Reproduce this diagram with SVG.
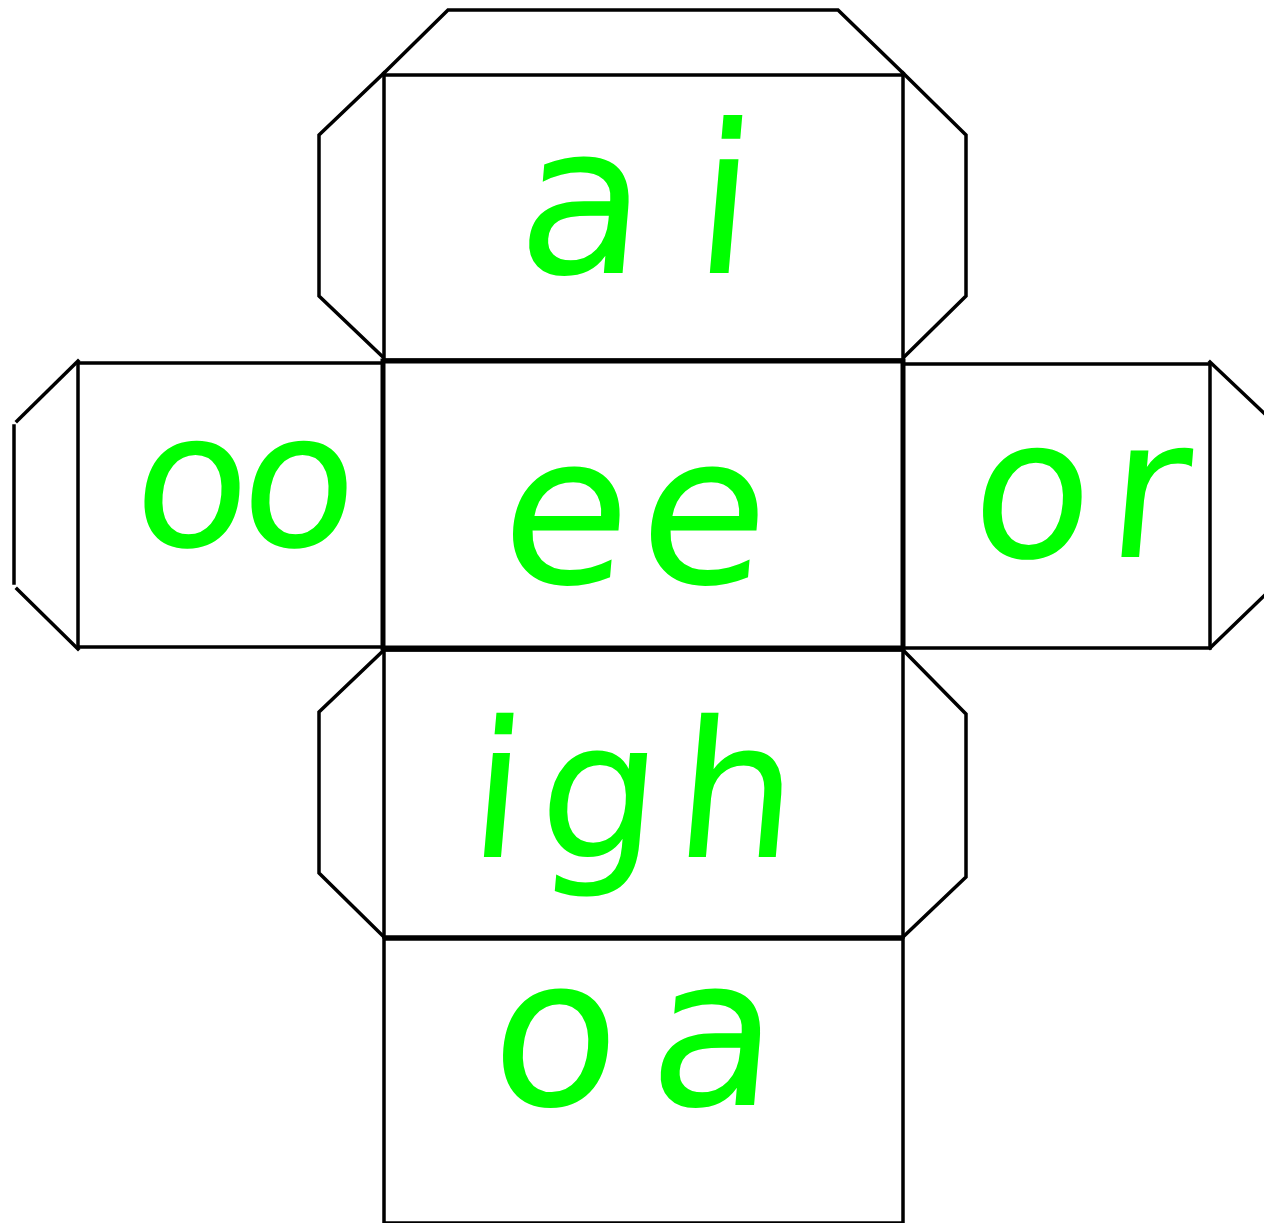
<svg xmlns="http://www.w3.org/2000/svg" width="1264" height="1223" viewBox="0 0 1264 1223">
<style>
.ln{fill:none;stroke:#000;stroke-width:3.5;stroke-linecap:square;stroke-linejoin:miter}
.face{fill:#fff;stroke:#000;stroke-width:3.5}
.thick{fill:none;stroke:#000;stroke-width:5}
.lbl{font-family:"DejaVu Sans","Liberation Sans",sans-serif;fill:#00ff00}
</style>
<rect x="0" y="0" width="1264" height="1223" fill="#fff"/>
<g id="flaps">
<polyline class="ln" points="384,73 448,10 838,10 903,73"/>
<polyline class="ln" points="384,73 319,135 319,296 384,358"/>
<polyline class="ln" points="903,73 966,135 966,296 903,358"/>
<line class="ln" x1="78" y1="361" x2="17" y2="421"/>
<line class="ln" x1="14" y1="426" x2="14" y2="583"/>
<line class="ln" x1="17" y1="589" x2="78" y2="649"/>
<polyline class="ln" points="1210,362 1266,415"/>
<polyline class="ln" points="1210,648 1266,594"/>
<polyline class="ln" points="384,650 319,712 319,873 384,937"/>
<polyline class="ln" points="903,650 966,714 966,877 903,937"/>
</g>
<g id="face-ai">
<rect class="face" x="384" y="75" width="519" height="285"/>
<text class="lbl" transform="translate(514,273) skewX(-5)" font-size="208" textLength="234" lengthAdjust="spacing">ai</text>
</g>
<g id="face-oo">
<rect class="face" x="78" y="363" width="305" height="284"/>
<text class="lbl" transform="translate(130,546) skewX(-5)" font-size="188" textLength="222" lengthAdjust="spacing">oo</text>
</g>
<g id="face-or">
<rect class="face" x="903" y="364" width="307" height="284"/>
<text class="lbl" transform="translate(968,557) skewX(-5)" font-size="195" textLength="216" lengthAdjust="spacing">or</text>
</g>
<g id="face-ee">
<rect class="thick" x="383" y="361" width="520" height="287"/>
<text class="lbl" transform="translate(497,583) skewX(-5)" font-size="208" textLength="266" lengthAdjust="spacing">ee</text>
</g>
<g id="face-igh">
<rect class="face" x="384" y="650" width="519" height="287"/>
<line class="thick" x1="383" y1="649" x2="903" y2="649"/>
<text class="lbl" transform="translate(466,857) skewX(-5)" font-size="190" textLength="326" lengthAdjust="spacing">igh</text>
</g>
<g id="face-oa">
<rect class="face" x="384" y="939" width="519" height="284"/>
<text class="lbl" transform="translate(487,1105) skewX(-5)" font-size="208" textLength="286" lengthAdjust="spacing">oa</text>
</g>
</svg>
